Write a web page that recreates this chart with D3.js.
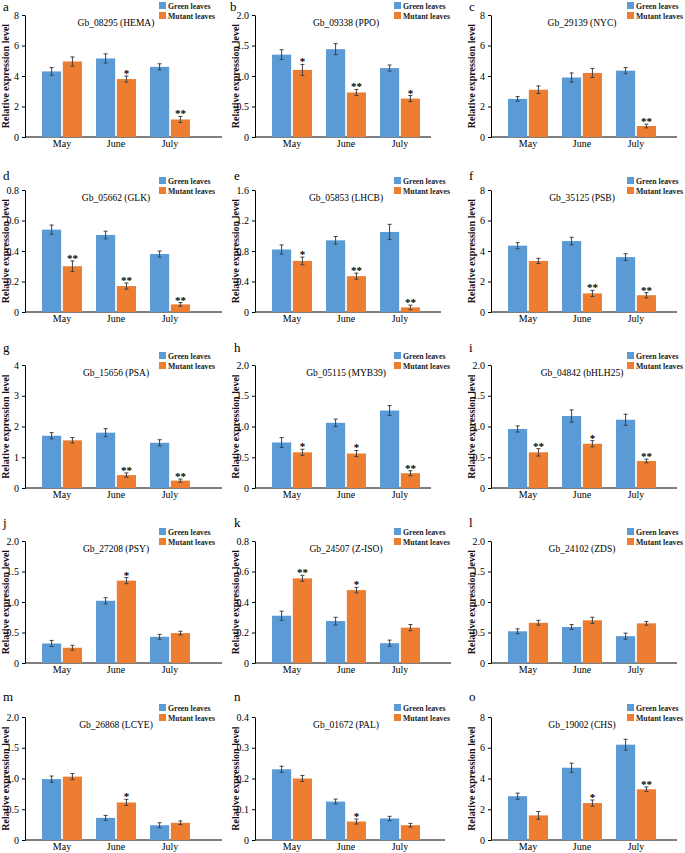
<!DOCTYPE html>
<html><head><meta charset="utf-8">
<script src="https://cdn.jsdelivr.net/npm/d3@7"></script>
<style>
html,body{margin:0;padding:0;background:#fff;}
svg{display:block;font-family:"Liberation Serif","Times New Roman",serif;}
</style></head>
<body>
<div id="chart"></div>
<script>
// ---------- data ----------
const months = ["May", "June", "July"];
const seriesNames = ["Green leaves", "Mutant leaves"];
const panelLetters = ["a","b","c","d","e","f","g","h","i","j","k","l","m","n","o"];
const geneTitles = [
  "Gb_08295 (HEMA)", "Gb_09338 (PPO)", "Gb_29139 (NYC)",
  "Gb_05662 (GLK)", "Gb_05853 (LHCB)", "Gb_35125 (PSB)",
  "Gb_15656 (PSA)", "Gb_05115 (MYB39)", "Gb_04842 (bHLH25)",
  "Gb_27208 (PSY)", "Gb_24507 (Z-ISO)", "Gb_24102 (ZDS)",
  "Gb_26868 (LCYE)", "Gb_01672 (PAL)", "Gb_19002 (CHS)"
];
const yMaxima   = [8, 2, 8, 0.8, 1.6, 8, 4, 2, 2, 2, 0.8, 2, 2, 0.4, 8];
const yTickSteps = [2, 0.5, 2, 0.2, 0.4, 2, 1, 0.5, 0.5, 0.5, 0.2, 0.5, 0.5, 0.1, 2];
const greenMeans = [
  [4.3, 5.15, 4.6], [1.35, 1.44, 1.13], [2.5, 3.9, 4.35],
  [0.54, 0.505, 0.38], [0.82, 0.94, 1.05], [4.35, 4.65, 3.6],
  [1.7, 1.8, 1.47], [0.74, 1.06, 1.26], [0.96, 1.17, 1.11],
  [0.32, 1.02, 0.43], [0.31, 0.275, 0.13], [0.52, 0.59, 0.44],
  [0.99, 0.36, 0.24], [0.23, 0.125, 0.07], [2.85, 4.7, 6.2]
];
const greenErrors = [
  [0.25, 0.3, 0.2], [0.08, 0.09, 0.05], [0.15, 0.3, 0.2],
  [0.03, 0.025, 0.02], [0.06, 0.05, 0.1], [0.2, 0.25, 0.22],
  [0.1, 0.13, 0.1], [0.08, 0.06, 0.08], [0.05, 0.1, 0.09],
  [0.05, 0.05, 0.04], [0.03, 0.025, 0.02], [0.04, 0.04, 0.05],
  [0.05, 0.04, 0.04], [0.01, 0.008, 0.007], [0.2, 0.3, 0.35]
];
const mutantMeans = [
  [4.95, 3.8, 1.15], [1.1, 0.73, 0.63], [3.1, 4.2, 0.72],
  [0.3, 0.17, 0.05], [0.67, 0.47, 0.06], [3.35, 1.22, 1.1],
  [1.55, 0.42, 0.24], [0.58, 0.56, 0.24], [0.58, 0.72, 0.44],
  [0.25, 1.35, 0.49], [0.555, 0.478, 0.232], [0.66, 0.7, 0.65],
  [1.03, 0.61, 0.28], [0.2, 0.06, 0.048], [1.6, 2.4, 3.3]
];
const mutantErrors = [
  [0.3, 0.2, 0.2], [0.09, 0.05, 0.05], [0.25, 0.3, 0.12],
  [0.035, 0.02, 0.012], [0.05, 0.04, 0.03], [0.17, 0.2, 0.17],
  [0.09, 0.07, 0.05], [0.05, 0.05, 0.04], [0.06, 0.05, 0.03],
  [0.04, 0.05, 0.03], [0.02, 0.018, 0.02], [0.04, 0.05, 0.03],
  [0.05, 0.05, 0.03], [0.01, 0.008, 0.006], [0.25, 0.2, 0.15]
];
const mutantSignif = [
  ["", "*", "**"], ["*", "**", "*"], ["", "", "**"],
  ["**", "**", "**"], ["*", "**", "**"], ["", "**", "**"],
  ["", "**", "**"], ["*", "*", "**"], ["**", "*", "**"],
  ["", "*", ""], ["**", "*", ""], ["", "", ""],
  ["", "*", ""], ["", "*", ""], ["", "*", "**"]
];

// ---------- layout ----------
const W = 685, H = 853;
const colors = ["#5B9BD5", "#ED7D31"];
const rowTop = [15, 190, 365, 541, 717];
const rowBottom = [137, 312, 488, 663, 840];
const colAxisX = [25, 255, 491];
const axisEnd = [197, 176, 186, 197, 186, 186, 197, 176, 186, 197, 196, 186, 197, 190, 186];
const legendX = [159, 394, 627];
const letterX = [3, 234, 469];
const letterY = [11, 180, 352, 527, 701];

const svg = d3.select("#chart").append("svg").attr("width", W).attr("height", H);

const fmt = (step) => (v) => v === 0 ? "0" : (step < 1 ? d3.format(".1f")(v) : d3.format("d")(v));

geneTitles.forEach((title, i) => {
  const row = Math.floor(i / 3), col = i % 3;
  const ax = colAxisX[col], top = rowTop[row], bot = rowBottom[row];
  const g = svg.append("g");

  const y = d3.scaleLinear().domain([0, yMaxima[i]]).range([bot, top]);
  const ticks = d3.range(0, yMaxima[i] + yTickSteps[i] / 2, yTickSteps[i]);
  const x = d3.scaleBand().domain(months).range([ax + 10, ax + 172])
    .paddingInner(0.26).paddingOuter(0.13);
  const xs = d3.scaleBand().domain(seriesNames).range([0, x.bandwidth()]).paddingInner(0.08);

  // y axis
  const yg = g.append("g").attr("transform", `translate(${ax},0)`)
    .call(d3.axisLeft(y).tickValues(ticks).tickSize(3).tickSizeOuter(0).tickPadding(3).tickFormat(fmt(yTickSteps[i])));
  yg.selectAll("text").attr("font-size", 10).attr("fill", "#000").attr("font-family", "Liberation Serif");
  yg.selectAll("line,path").attr("stroke", "#000");

  // x axis
  const xg = g.append("g").attr("transform", `translate(0,${bot})`)
    .call(d3.axisBottom(x).tickSize(0).tickPadding(3));
  xg.select(".domain").remove();
  xg.selectAll("text").attr("font-size", 10).attr("fill", "#000").attr("font-family", "Liberation Serif");
  g.append("line").attr("x1", ax).attr("x2", ax + axisEnd[i]).attr("y1", bot).attr("y2", bot)
    .attr("stroke", "#000").attr("stroke-width", 1);

  // bars
  const series = [
    { name: seriesNames[0], means: greenMeans[i], errs: greenErrors[i], sig: ["", "", ""] },
    { name: seriesNames[1], means: mutantMeans[i], errs: mutantErrors[i], sig: mutantSignif[i] }
  ];
  series.forEach((s, si) => {
    months.forEach((m, mi) => {
      const bx = x(m) + xs(s.name);
      const v = s.means[mi], e = s.errs[mi];
      g.append("rect").attr("x", bx).attr("y", y(v)).attr("width", xs.bandwidth())
        .attr("height", bot - y(v)).attr("fill", colors[si]);
      const cx = bx + xs.bandwidth() / 2;
      g.append("line").attr("x1", cx).attr("x2", cx).attr("y1", y(Math.max(0, v - e))).attr("y2", y(v + e))
        .attr("stroke", "#404040").attr("stroke-width", 1);
      [v - e, v + e].forEach(ev => {
        g.append("line").attr("x1", cx - 2).attr("x2", cx + 2).attr("y1", y(Math.max(0, ev))).attr("y2", y(Math.max(0, ev)))
          .attr("stroke", "#404040").attr("stroke-width", 1);
      });
      if (s.sig[mi]) {
        g.append("text").attr("x", cx).attr("y", y(v + e) + 1)
          .attr("text-anchor", "middle").attr("font-size", 11).attr("font-weight", "bold")
          .attr("fill", "#000").text(s.sig[mi]);
      }
    });
  });

  // title
  g.append("text").attr("x", x("June") + x.bandwidth() / 2).attr("y", top + 11)
    .attr("text-anchor", "middle").attr("font-size", 9.5).attr("fill", "#000").text(title);

  // y title
  g.append("text").attr("transform", `translate(${ax - 20},${(top + bot) / 2}) rotate(-90)`)
    .attr("text-anchor", "middle").attr("dominant-baseline", "central")
    .attr("font-size", 10).attr("font-weight", "bold").attr("fill", "#111")
    .text("Relative expression level");

  // legend
  seriesNames.forEach((n, si) => {
    const cy = top - 9.5 + si * 10;
    g.append("rect").attr("x", legendX[col]).attr("y", cy - 3.5).attr("width", 7).attr("height", 7).attr("fill", colors[si]);
    g.append("text").attr("x", legendX[col] + 9).attr("y", cy + 3)
      .attr("font-size", 7.8).attr("font-weight", "bold").attr("fill", "#222").text(n);
  });

  // panel letter (top-row middle letter nudged left to clear the "2.0" tick)
  svg.append("text").attr("x", letterX[col] - (row === 0 && col === 1 ? 4 : 0)).attr("y", letterY[row])
    .attr("font-size", 13).attr("fill", "#000").text(panelLetters[i]);
});
</script>
</body></html>
